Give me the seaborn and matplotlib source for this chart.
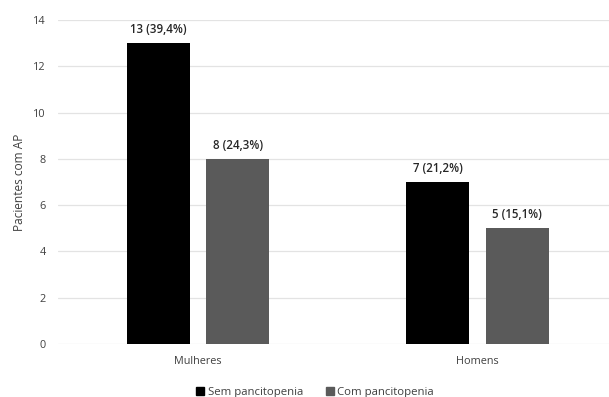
import matplotlib
matplotlib.use("Agg")
import matplotlib.pyplot as plt
import seaborn as sns
import pandas as pd

# Patients with AP, split by sex and pancytopenia status
sexes = ["Mulheres", "Homens"]
groups = ["Sem pancitopenia", "Com pancitopenia"]
sem_pancitopenia = [13, 7]
com_pancitopenia = [8, 5]
sem_pct = ["39,4%", "21,2%"]
com_pct = ["24,3%", "15,1%"]
y_ticks = [0, 2, 4, 6, 8, 10, 12, 14]

df = pd.DataFrame({
    "Sexo": sexes * 2,
    "Grupo": [groups[0]] * 2 + [groups[1]] * 2,
    "Pacientes": sem_pancitopenia + com_pancitopenia,
    "Rotulo": [f"{v} ({p})" for v, p in zip(sem_pancitopenia, sem_pct)]
              + [f"{v} ({p})" for v, p in zip(com_pancitopenia, com_pct)],
})

sns.set_theme(style="white")
plt.rcParams["font.family"] = ["Open Sans", "DejaVu Sans"]

fig = plt.figure(figsize=(6.09, 3.97), dpi=100)
ax = fig.add_axes([58 / 609, 53 / 397, 551 / 609, 324 / 397])

palette = {groups[0]: "#000000", groups[1]: "#5a5a5a"}
sns.barplot(data=df, x="Sexo", y="Pacientes", hue="Grupo", order=sexes,
            hue_order=groups, palette=palette, width=0.568, gap=0.206,
            saturation=1, edgecolor="none", linewidth=0, ax=ax, legend=False,
            zorder=3)

# value labels above each bar
for container, grp in zip(ax.containers, groups):
    labels = df[df["Grupo"] == grp].set_index("Sexo").loc[sexes, "Rotulo"].tolist()
    ax.bar_label(container, labels=labels, padding=5, fontsize=8.3,
                 color="#262626", fontweight="semibold")

ax.set_xlim(-0.501, 1.470)
ax.set_ylim(0, 14)
ax.set_yticks(y_ticks)
ax.yaxis.grid(True, color="#e3e3e3", linewidth=0.9, zorder=0)
ax.set_axisbelow(True)
for s in ax.spines.values():
    s.set_visible(False)
ax.tick_params(axis="both", length=0, labelsize=7.8, labelcolor="#404040")
ax.tick_params(axis="y", pad=9)
ax.tick_params(axis="x", pad=9)
ax.set_xlabel("")
ax.set_ylabel("Pacientes com AP", fontsize=8.6, color="#404040", labelpad=5)

handles = [plt.Rectangle((0, 0), 1, 1, color=palette[g]) for g in groups]
fig.legend(handles, groups, loc="center", bbox_to_anchor=(315 / 609, 1 - 392 / 397),
           ncol=2, frameon=False, fontsize=8.2, handlelength=0.7, handleheight=0.7,
           handletextpad=0.3, columnspacing=2.0, labelcolor="#404040")

fig.savefig("out.png", dpi=100)
